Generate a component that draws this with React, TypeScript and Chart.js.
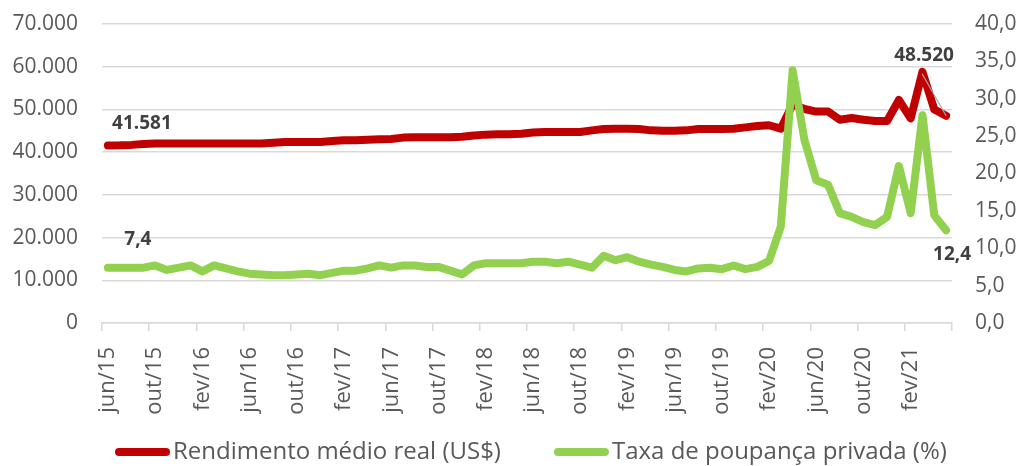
import React, { useEffect, useRef } from 'react';
import { Chart, registerables } from 'chart.js';

Chart.register(...registerables);

const categories: string[] = [
  'jun/15', 'jul/15', 'ago/15', 'set/15', 'out/15', 'nov/15', 'dez/15',
  'jan/16', 'fev/16', 'mar/16', 'abr/16', 'mai/16', 'jun/16', 'jul/16', 'ago/16', 'set/16', 'out/16', 'nov/16', 'dez/16',
  'jan/17', 'fev/17', 'mar/17', 'abr/17', 'mai/17', 'jun/17', 'jul/17', 'ago/17', 'set/17', 'out/17', 'nov/17', 'dez/17',
  'jan/18', 'fev/18', 'mar/18', 'abr/18', 'mai/18', 'jun/18', 'jul/18', 'ago/18', 'set/18', 'out/18', 'nov/18', 'dez/18',
  'jan/19', 'fev/19', 'mar/19', 'abr/19', 'mai/19', 'jun/19', 'jul/19', 'ago/19', 'set/19', 'out/19', 'nov/19', 'dez/19',
  'jan/20', 'fev/20', 'mar/20', 'abr/20', 'mai/20', 'jun/20', 'jul/20', 'ago/20', 'set/20', 'out/20', 'nov/20', 'dez/20',
  'jan/21', 'fev/21', 'mar/21', 'abr/21', 'mai/21',
];

const income: number[] = [
  41581, 41600, 41700, 41900, 42000, 42000, 42000,
  42000, 42000, 42000, 42000, 42000, 42000, 42000, 42200, 42400, 42400, 42400, 42400,
  42600, 42800, 42800, 42900, 43000, 43100, 43400, 43500, 43500, 43500, 43500, 43600,
  43900, 44100, 44200, 44200, 44300, 44600, 44700, 44700, 44700, 44700, 45100, 45400,
  45500, 45500, 45400, 45100, 45000, 45000, 45100, 45400, 45400, 45400, 45500, 45800,
  46100, 46300, 45500, 51200, 50100, 49500, 49500, 47600, 48000, 47600, 47300, 47300,
  52200, 47900, 58800, 50000, 48520,
];

const savingRate: number[] = [
  7.4, 7.4, 7.4, 7.4, 7.7, 7.1, 7.4,
  7.7, 6.9, 7.7, 7.3, 6.9, 6.6, 6.5, 6.4, 6.4, 6.5, 6.6, 6.4,
  6.7, 7.0, 7.0, 7.3, 7.7, 7.4, 7.7, 7.7, 7.5, 7.5, 7.0, 6.5,
  7.7, 8.0, 8.0, 8.0, 8.0, 8.2, 8.2, 8.0, 8.2, 7.8, 7.4, 9.0,
  8.4, 8.8, 8.2, 7.8, 7.5, 7.1, 6.9, 7.3, 7.4, 7.2, 7.7, 7.2,
  7.5, 8.3, 12.9, 33.8, 24.5, 19.1, 18.5, 14.7, 14.2, 13.5, 13.1, 14.2,
  21.0, 14.7, 27.8, 14.4, 12.4,
];

const seriesNames: string[] = ['Rendimento médio real (US$)', 'Taxa de poupança privada (%)'];
const seriesColors: string[] = ['#c00000', '#92d050'];

const FONT = '"Open Sans", "DejaVu Sans", sans-serif';
const GRID = '#d9d9d9';
const TEXT = '#595959';
const CLEAR = 'rgba(0,0,0,0)';

const fmtThousands = (v: number) => {
  if (v === 0) return '0';
  const s = Math.round(v).toString();
  return s.replace(/\B(?=(\d{3})+(?!\d))/g, '.');
};
const fmtDecimal = (v: number) => v.toFixed(1).replace('.', ',');

const labelPlugin = {
  id: 'pointLabels',
  afterDatasetsDraw(chart: any) {
    const ctx = chart.ctx;
    const red = chart.getDatasetMeta(0).data;
    const green = chart.getDatasetMeta(1).data;
    const last = income.length - 1;
    ctx.save();
    ctx.font = `bold 19px ${FONT}`;
    ctx.fillStyle = '#404040';
    ctx.textAlign = 'center';
    ctx.textBaseline = 'middle';
    ctx.fillText(fmtThousands(income[0]), red[0].x + 34, red[0].y - 22);
    ctx.fillText(fmtDecimal(savingRate[0]), green[0].x + 30, green[0].y - 28);
    const lx = red[last].x - 22;
    const ly = red[last].y - 60;
    ctx.strokeStyle = '#a6a6a6';
    ctx.lineWidth = 1.2;
    ctx.beginPath();
    ctx.moveTo(lx - 2, ly + 18);
    ctx.lineTo(red[last].x, red[last].y);
    ctx.stroke();
    ctx.fillText(fmtThousands(income[last]), lx, ly);
    ctx.fillText(fmtDecimal(savingRate[last]), green[last].x + 6, green[last].y + 24);
    ctx.restore();
  },
  afterDraw(chart: any) {
    const ctx = chart.ctx;
    const y = 452;
    ctx.save();
    ctx.font = `24px ${FONT}`;
    ctx.textBaseline = 'middle';
    ctx.textAlign = 'left';
    let x = 115;
    seriesNames.forEach((name, i) => {
      ctx.strokeStyle = seriesColors[i];
      ctx.lineWidth = 8;
      ctx.lineCap = 'round';
      ctx.beginPath();
      ctx.moveTo(x + 4, y);
      ctx.lineTo(x + 51, y);
      ctx.stroke();
      x += 58;
      ctx.fillStyle = TEXT;
      ctx.fillText(name, x, y);
      x += ctx.measureText(name).width + 53;
    });
    ctx.restore();
  },
};

export default function App() {
  const canvasRef = useRef<HTMLCanvasElement | null>(null);

  useEffect(() => {
    if (!canvasRef.current) return;
    const chart = new Chart(canvasRef.current, {
      type: 'line',
      data: {
        labels: categories,
        datasets: [
          {
            label: seriesNames[0],
            data: income,
            yAxisID: 'y',
            borderColor: seriesColors[0],
            backgroundColor: seriesColors[0],
            borderWidth: 8,
            borderCapStyle: 'round',
            borderJoinStyle: 'round',
            pointRadius: 0,
            tension: 0,
            order: 1,
          },
          {
            label: seriesNames[1],
            data: savingRate,
            yAxisID: 'y1',
            borderColor: seriesColors[1],
            backgroundColor: seriesColors[1],
            borderWidth: 8,
            borderCapStyle: 'round',
            borderJoinStyle: 'round',
            pointRadius: 0,
            tension: 0,
            order: 0,
          },
        ],
      },
      options: {
        animation: false,
        responsive: true,
        maintainAspectRatio: false,
        layout: { padding: { top: 24, left: 0, right: 0, bottom: 43 } },
        plugins: {
          tooltip: { enabled: false },
          legend: { display: false },
        },
        scales: {
          x: {
            type: 'category',
            offset: true,
            border: { display: true, color: GRID, width: 1.5 },
            grid: {
              offset: true,
              drawOnChartArea: false,
              drawTicks: true,
              tickLength: 8,
              lineWidth: 1.5,
              color: (ctx: any) =>
                ctx.index === undefined || ctx.index % 4 === 0 ? GRID : CLEAR,
            },
            ticks: {
              autoSkip: false,
              minRotation: 90,
              maxRotation: 90,
              padding: 16,
              color: TEXT,
              font: { family: FONT, size: 22 },
              callback: (_v: any, i: number) => (i % 4 === 0 ? categories[i] : ''),
            },
            afterFit: (scale: any) => {
              scale.height = 100;
            },
          },
          y: {
            position: 'left',
            min: 0,
            max: 70000,
            border: { display: false },
            grid: { color: GRID, lineWidth: 1.5, drawTicks: true, tickLength: 24, tickColor: CLEAR },
            ticks: {
              stepSize: 10000,
              padding: 0,
              color: TEXT,
              font: { family: FONT, size: 21 },
              callback: (v: any) => fmtThousands(Number(v)),
            },
            afterFit: (scale: any) => {
              scale.width = 102;
            },
          },
          y1: {
            position: 'right',
            min: 0,
            max: 40,
            border: { display: false },
            grid: { drawOnChartArea: false, drawTicks: true, tickLength: 23, color: CLEAR, tickColor: CLEAR },
            ticks: {
              stepSize: 5,
              padding: 0,
              color: TEXT,
              font: { family: FONT, size: 21 },
              callback: (v: any) => fmtDecimal(Number(v)),
            },
            afterFit: (scale: any) => {
              scale.width = 71;
            },
          },
        },
      },
      plugins: [labelPlugin],
    } as any);
    return () => chart.destroy();
  }, []);

  return (
    <div style={{ position: 'absolute', left: 0, top: 0, width: 1023, height: 466, background: '#fff' }}>
      <canvas ref={canvasRef} />
    </div>
  );
}
